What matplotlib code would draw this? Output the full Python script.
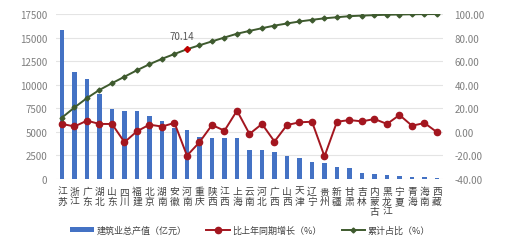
import matplotlib
matplotlib.use("Agg")
import matplotlib.pyplot as plt
from matplotlib.ticker import FuncFormatter

plt.rcParams['font.family'] = ['Noto Sans CJK SC', 'DejaVu Sans']

# 省份（纵向排列的标签）
provinces = ["江苏", "浙江", "广东", "湖北", "山东", "四川", "福建", "北京", "湖南", "安徽",
             "河南", "重庆", "陕西", "江西", "上海", "云南", "河北", "广西", "山西", "天津",
             "辽宁", "贵州", "新疆", "甘肃", "吉林", "内蒙古", "黑龙江", "宁夏", "青海", "海南", "西藏"]

# 建筑业总产值（亿元）
output = [15840, 11310, 10600, 9015, 7424, 7250, 7200, 6710, 6120, 5375,
          5230, 4420, 4310, 4310, 4300, 3110, 3080, 2830, 2400, 2260,
          1770, 1700, 1240, 1130, 640, 530, 420, 290, 260, 180, 80]

# 比上年同期增长（%）
growth = [6.7, 4.6, 9.5, 6.7, 6.7, -8.8, 0.5, 6.1, 4.5, 7.6,
          -20.2, -8.8, 5.8, 1.0, 18.0, -1.8, 6.7, -8.2, 5.8, 8.1,
          8.6, -20.8, 8.6, 10.0, 8.9, 10.9, 6.7, 14.3, 5.2, 7.5, -0.3]

# 累计占比（%）
share = [12.1, 20.7, 28.7, 35.6, 41.3, 46.8, 52.3, 57.4, 62.0, 66.1,
         70.14, 73.5, 76.8, 80.1, 83.3, 85.7, 88.0, 90.2, 92.0, 93.7,
         95.1, 96.4, 97.3, 98.2, 98.7, 99.1, 99.4, 99.6, 99.8, 99.94, 100.0]

blue = '#4472C4'
red = '#A3161F'
green = '#3E5A2E'
gray = '#7F7F7F'

fig = plt.figure(figsize=(5.16, 2.51), dpi=100)
ax = fig.add_axes([0.108, 0.283, 0.751, 0.657])
ax2 = ax.twinx()

x = list(range(len(provinces)))
ax.bar(x, output, width=0.38, color=blue, zorder=2, label='建筑业总产值（亿元）')

ax2.plot(x, growth, color=red, lw=1.4, marker='o', ms=4.5, mfc=red, mec=red,
         zorder=3, label='比上年同期增长（%）')
ax2.plot(x, share, color=green, lw=1.4, marker='D', ms=2.5, mfc=green, mec=green,
         zorder=3, label='累计占比（%）')
# 高亮河南的累计点
i_hn = provinces.index("河南")
ax2.plot([x[i_hn]], [share[i_hn]], marker='D', ms=3, color='#C00000', zorder=4)
ax2.annotate(f"{share[i_hn]:.2f}", (x[i_hn], share[i_hn]), xytext=(-4, 6),
             textcoords='offset points', ha='center', va='bottom', fontsize=7, color='#595959')

ax.set_xlim(-0.5, len(provinces) - 0.5)
ax.set_ylim(0, 17500)
ax.set_yticks(range(0, 17501, 2500))
ax2.set_ylim(-40, 100)
ax2.set_yticks(range(-40, 101, 20))
ax2.yaxis.set_major_formatter(FuncFormatter(lambda v, p: f"{v:.2f}"))

ax.set_xticks(x)
ax.set_xticklabels(["\n".join(p) for p in provinces], fontsize=7.5, color='#404040',
                   linespacing=1.0, va='top')

ax.grid(axis='y', color='#E4E4E4', lw=0.8, zorder=0)
ax.set_axisbelow(True)
for a in (ax, ax2):
    for s in a.spines.values():
        s.set_visible(False)
    a.tick_params(length=0, labelsize=7, colors=gray)
ax.tick_params(axis='x', pad=5, colors='#404040')
ax.tick_params(axis='y', pad=6)
ax2.tick_params(axis='y', pad=8)

h1, l1 = ax.get_legend_handles_labels()
h2, l2 = ax2.get_legend_handles_labels()
fig.legend(h1 + h2, l1 + l2, loc='center', bbox_to_anchor=(0.485, 0.08), ncol=3,
           frameon=False, fontsize=6.5, labelcolor='#404040', handlelength=2.6,
           handleheight=0.4, columnspacing=2.2, handletextpad=0.3)

fig.savefig("out.png", dpi=100)
